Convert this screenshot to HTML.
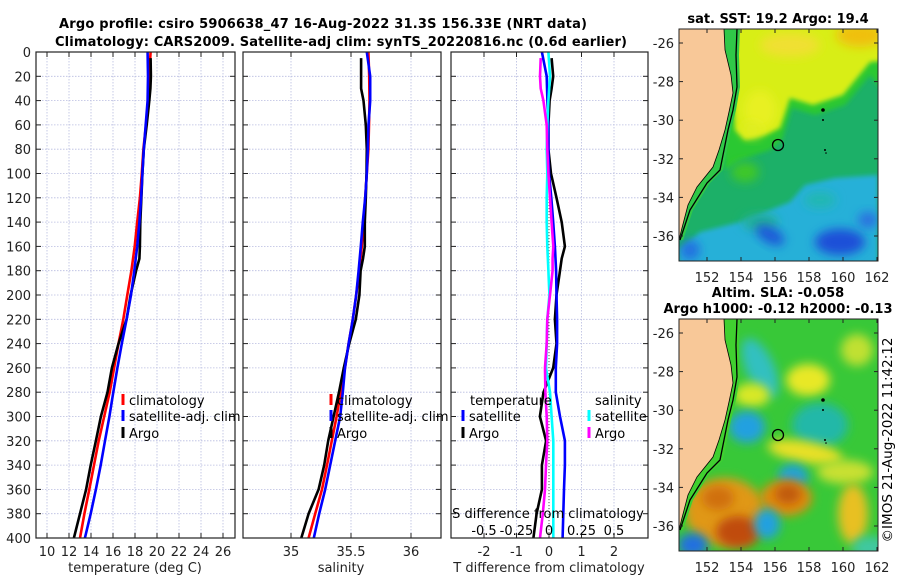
<!DOCTYPE html>
<html><head><meta charset="utf-8"><style>
html,body{margin:0;padding:0;background:#fff;}
svg{display:block;font-family:"DejaVu Sans","Liberation Sans",sans-serif;}
</style></head><body>
<svg id="fig" width="900" height="580" viewBox="0 0 900 580" xmlns="http://www.w3.org/2000/svg">
<defs>
<filter id="blur6" x="-50%" y="-50%" width="200%" height="200%"><feGaussianBlur stdDeviation="5"/></filter>
<filter id="blur3" x="-50%" y="-50%" width="200%" height="200%"><feGaussianBlur stdDeviation="2.5"/></filter>
<clipPath id="clipMap1"><rect x="679" y="29" width="199" height="232"/></clipPath>
<clipPath id="clipMap2"><rect x="679" y="319" width="199" height="232"/></clipPath>
<clipPath id="clipP1"><rect x="36" y="52" width="199" height="486"/></clipPath>
<clipPath id="clipP2"><rect x="243" y="52" width="198" height="486"/></clipPath>
<clipPath id="clipP3"><rect x="451" y="52" width="197" height="486"/></clipPath>
</defs>
<text x="323" y="28" font-size="13" font-weight="bold" text-anchor="middle" textLength="528">Argo profile: csiro 5906638_47 16-Aug-2022 31.3S 156.33E (NRT data)</text>
<text x="341" y="46" font-size="13" font-weight="bold" text-anchor="middle" textLength="572">Climatology: CARS2009. Satellite-adj clim: synTS_20220816.nc (0.6d earlier)</text>
<g id="panels"></g>
<g id="maps"></g>
<text transform="translate(892,440) rotate(-90)" font-size="13.5" text-anchor="middle">©IMOS 21-Aug-2022 11:42:12</text>
</svg>
<script>
// ---------- data ----------
const depths = [0,20,40,60,80,100,120,140,160,180,200,220,240,260,280,300,320,340,360,380,400];
const depthTicks = [0,20,40,60,80,100,120,140,160,180,200,220,240,260,280,300,320,340,360,380,400];
const tempClim = [19.42,19.28,19.2,19.0,18.76,18.62,18.45,18.2,17.97,17.67,17.3,16.94,16.5,16.1,15.7,15.2,14.7,14.27,13.85,13.4,13.0];
const tempSat  = [19.15,19.18,19.15,18.97,18.8,18.67,18.55,18.4,18.2,17.94,17.64,17.24,16.8,16.4,16.03,15.67,15.27,14.88,14.45,13.97,13.45];
const argoDepths = [5,20,30,40,60,80,100,120,140,160,170,180,200,220,240,260,280,300,320,340,360,380,400];
const tempArgo = [19.42,19.45,19.4,19.3,19.06,18.8,18.67,18.58,18.48,18.45,18.4,18.1,17.6,17.24,16.5,15.9,15.5,14.9,14.45,13.97,13.55,13.0,12.45];
const salClim = [35.645,35.652,35.654,35.65,35.645,35.632,35.618,35.604,35.59,35.568,35.543,35.515,35.48,35.45,35.415,35.38,35.34,35.3,35.258,35.202,35.147];
const salSat  = [35.632,35.66,35.66,35.646,35.64,35.632,35.618,35.598,35.582,35.563,35.543,35.515,35.48,35.45,35.432,35.41,35.368,35.327,35.285,35.235,35.19];
const salArgo = [35.584,35.584,35.584,35.604,35.623,35.632,35.629,35.623,35.615,35.615,35.6,35.58,35.57,35.54,35.485,35.44,35.4,35.355,35.31,35.277,35.23,35.147,35.086];
const tDiffSat  = [-0.22,-0.07,-0.05,-0.02,-0.02,0.0,0.07,0.13,0.18,0.22,0.23,0.25,0.25,0.21,0.21,0.34,0.49,0.49,0.46,0.44,0.42];
const tDiffArgo = [0.08,0.13,0.08,0.02,-0.02,-0.02,0.06,0.23,0.39,0.49,0.39,0.34,0.23,0.18,0.23,0.13,-0.17,-0.28,-0.09,-0.22,-0.22,-0.38,-0.48];
const sDiffSat  = [-0.005,0.008,-0.005,-0.013,-0.018,-0.013,-0.018,-0.018,-0.013,-0.005,0.003,-0.013,-0.018,-0.023,0.008,0.02,0.033,0.033,0.033,0.033,0.033];
const sDiffArgo = [-0.064,-0.069,-0.064,-0.043,-0.018,-0.013,-0.005,0.008,0.02,0.033,0.028,0.028,0.008,-0.013,-0.018,-0.031,-0.028,-0.018,-0.013,-0.023,-0.031,-0.048,-0.069];
const tempTicks = [10,12,14,16,18,20,22,24,26];
const salTicks = [35,35.5,36];
const salTickLabels = ["35","35.5","36"];
const tdTicks = [-2,-1,0,1,2];
const sdTicks = [-0.5,-0.25,0,0.25,0.5];
const sdTickLabels = ["-0.5","-0.25","0","0.25","0.5"];
const latTicks = [-26,-28,-30,-32,-34,-36];
const lonTicks = [152,154,156,158,160,162];

// ---------- helpers ----------
const NS = "http://www.w3.org/2000/svg";
const FS = 13;
const PB = 538; // panel bottom
function mk(tag, attrs, parent, txt){
  const e = document.createElementNS(NS, tag);
  for (const k in attrs) e.setAttribute(k, attrs[k]);
  if (txt !== undefined) e.textContent = txt;
  parent.appendChild(e);
  return e;
}
const yD = d => 52 + d * ((PB-52)/400);
const xT = t => 36 + (t - 9) * 11;
const xS = s => 243 + (s - 34.6) * 120;
const xTD = v => 549 + v * 32.5;
const xSD = v => 549 + v * 130;
const panels = document.getElementById('panels');

function panelFrame(x0, w, gx, name){
  const g = mk('g', {}, panels);
  
  
  mk('rect', {x:x0, y:52, width:w, height:PB-52, fill:'#fff'}, g);
  gx.forEach(x => mk('line', {x1:x, x2:x, y1:52, y2:PB, stroke:'#b8bce0', 'stroke-width':0.8, 'stroke-dasharray':'1.5,1.5'}, g));
  depthTicks.forEach(d => {
    const y = yD(d);
    mk('line', {x1:x0, x2:x0+w, y1:y, y2:y, stroke:'#b8bce0', 'stroke-width':0.8, 'stroke-dasharray':'1.5,1.5'}, g);
    mk('line', {x1:x0, x2:x0+5, y1:y, y2:y, stroke:'#222', 'stroke-width':1}, g);
    mk('line', {x1:x0+w-5, x2:x0+w, y1:y, y2:y, stroke:'#222', 'stroke-width':1}, g);
  });
  gx.forEach(x => {
    mk('line', {x1:x, x2:x, y1:52, y2:57, stroke:'#222', 'stroke-width':1}, g);
    mk('line', {x1:x, x2:x, y1:PB-5, y2:PB, stroke:'#222', 'stroke-width':1}, g);
  });
  return g;
}
function line(g, xs, ds, xf, col, name, clip){
  const pts = xs.map((v,i) => xf(v).toFixed(1) + ',' + yD(ds[i]).toFixed(1)).join(' ');
  const p = mk('polyline', {points:pts, fill:'none', stroke:col, 'stroke-width':2.6, 'stroke-linejoin':'round', 'clip-path':clip}, g);
  
  
}
function border(g, x0, w){ mk('rect', {x:x0, y:52, width:w, height:PB-52, fill:'none', stroke:'#222', 'stroke-width':1.2}, g); }
function legendItem(g, x, y, col, label, name){
  const it = mk('g', {}, g);
  
  
  mk('rect', {x:x-1.5, y:y-11, width:3, height:11, fill:col}, it);
  mk('text', {x:x+6, y:y, 'font-size':FS}, it, label);
}

// ---------- panel 1: temperature ----------
const g1 = panelFrame(36, 199, tempTicks.map(xT), 'temperature-panel');
depthTicks.forEach(d => {
  const t = mk('text', {x:31, y:yD(d)+5, 'font-size':FS, 'text-anchor':'end', fill:'#222'}, g1, String(d));
  
  
});
tempTicks.forEach(v => {
  const t = mk('text', {x:xT(v), y:556, 'font-size':FS, 'text-anchor':'middle', fill:'#222'}, g1, String(v));
  
  
});
const xl1 = mk('text', {x:135, y:572, 'font-size':FS, 'text-anchor':'middle', fill:'#222'}, g1, 'temperature (deg C)');


line(g1, tempClim, depths, xT, '#ff0000', 'temperature-climatology-line', 'url(#clipP1)');
line(g1, tempArgo, argoDepths, xT, '#000000', 'temperature-argo-line', 'url(#clipP1)');
line(g1, tempSat, depths, xT, '#0000ff', 'temperature-satellite-line', 'url(#clipP1)');
legendItem(g1, 123, 405, '#ff0000', 'climatology', 'legend-climatology');
legendItem(g1, 123, 421, '#0000ff', 'satellite-adj. clim', 'legend-satellite-adj');
legendItem(g1, 123, 438, '#000000', 'Argo', 'legend-argo');
border(g1, 36, 199);

// ---------- panel 2: salinity ----------
const g2 = panelFrame(243, 198, salTicks.map(xS), 'salinity-panel');
salTicks.forEach((v,i) => {
  const t = mk('text', {x:xS(v), y:556, 'font-size':FS, 'text-anchor':'middle', fill:'#222'}, g2, salTickLabels[i]);
  
  
});
const xl2 = mk('text', {x:341, y:572, 'font-size':FS, 'text-anchor':'middle', fill:'#222'}, g2, 'salinity');


line(g2, salClim, depths, xS, '#ff0000', 'salinity-climatology-line', 'url(#clipP2)');
line(g2, salArgo, argoDepths, xS, '#000000', 'salinity-argo-line', 'url(#clipP2)');
line(g2, salSat, depths, xS, '#0000ff', 'salinity-satellite-line', 'url(#clipP2)');
legendItem(g2, 331, 405, '#ff0000', 'climatology', 'legend-climatology-2');
legendItem(g2, 331, 421, '#0000ff', 'satellite-adj. clim', 'legend-satellite-adj-2');
legendItem(g2, 331, 438, '#000000', 'Argo', 'legend-argo-2');
border(g2, 243, 198);

// ---------- panel 3: differences ----------
const g3 = panelFrame(451, 197, tdTicks.map(xTD), 'difference-panel');
mk('line', {x1:549, x2:549, y1:52, y2:PB, stroke:'#555', 'stroke-width':1, 'stroke-dasharray':'1,2'}, g3);
tdTicks.forEach(v => {
  const t = mk('text', {x:xTD(v), y:556, 'font-size':FS, 'text-anchor':'middle', fill:'#222'}, g3, String(v));
  
  
});
const xl3 = mk('text', {x:549, y:572, 'font-size':FS, 'text-anchor':'middle', fill:'#222'}, g3, 'T difference from climatology');


line(g3, tDiffArgo, argoDepths, xTD, '#000000', 't-diff-argo-line', 'url(#clipP3)');
line(g3, tDiffSat, depths, xTD, '#0000ff', 't-diff-satellite-line', 'url(#clipP3)');
line(g3, sDiffSat, depths, xSD, '#00ffff', 's-diff-satellite-line', 'url(#clipP3)');
line(g3, sDiffArgo, argoDepths, xSD, '#ff00ff', 's-diff-argo-line', 'url(#clipP3)');
const lt = mk('text', {x:470, y:405, 'font-size':FS}, g3, 'temperature');


const ls = mk('text', {x:595, y:405, 'font-size':FS}, g3, 'salinity');


legendItem(g3, 463, 421, '#0000ff', 'satellite', 'legend-t-satellite');
legendItem(g3, 463, 438, '#000000', 'Argo', 'legend-t-argo');
legendItem(g3, 589, 421, '#00ffff', 'satellite', 'legend-s-satellite');
legendItem(g3, 589, 438, '#ff00ff', 'Argo', 'legend-s-argo');
const sdt = mk('text', {x:548, y:518, 'font-size':FS, 'text-anchor':'middle'}, g3, 'S difference from climatology');


sdTicks.forEach((v,i) => {
  const t = mk('text', {x:xSD(v), y:535, 'font-size':FS, 'text-anchor':'middle'}, g3, sdTickLabels[i]);
  
  
});
border(g3, 451, 197);

// ---------- maps ----------
const maps = document.getElementById('maps');
const lonX = lon => 707 + (lon - 152) * 17;
const coast = [[724,29],[725,50],[731,75],[733,93],[729,112],[725,130],[719,150],[713,167],[697,187],[688,205],[682,228],[679,240]];
const shelf = [[737,29],[736,55],[737,87],[733,110],[728,130],[720,170],[707,183],[690,210],[680,240]];
function drawMap(y0, name, title1, title2, fieldFn){
  const off = y0 - 29;
  const latY = lat => y0 + 14 + (-26 - lat) * 19.3;
  const g = mk('g', {}, maps);
  
  
  const cg = mk('g', {'clip-path': y0 < 100 ? 'url(#clipMap1)' : 'url(#clipMap2)'}, g);
  fieldFn(cg, off);
  const strip = coast.map(p => p[0]+','+(p[1]+off)).concat(shelf.slice().reverse().map(p => (p[0]+3)+','+(p[1]+off))).join(' ');
  mk('polygon', {points:strip, fill: y0 < 100 ? '#30c848' : '#40d030'}, cg);
  const landPts = [[679,29]].concat(coast).map(p => p[0] + ',' + (p[1]+off)).join(' ');
  mk('polygon', {points:landPts + ' 679,' + (261+off), fill:'#f8c898'}, cg);
  mk('polyline', {points: coast.map(p => p[0]+','+(p[1]+off)).join(' '), fill:'none', stroke:'#000', 'stroke-width':0.8}, cg);
  mk('polyline', {points: shelf.map(p => p[0]+','+(p[1]+off)).join(' '), fill:'none', stroke:'#000', 'stroke-width':1.3}, cg);
  const dot = mk('circle', {cx:778, cy:145+off, r:5.5, fill:'none', stroke:'#000', 'stroke-width':1.3}, cg);
  
  
  [[823,110,1.8],[823,120,1],[825,150,1],[826,153,0.8]].forEach(p => mk('circle', {cx:p[0], cy:p[1]+off, r:p[2], fill:'#000'}, cg));
  mk('rect', {x:679, y:y0, width:199, height:232, fill:'none', stroke:'#222', 'stroke-width':1}, g);
  latTicks.forEach(l => {
    const y = latY(l);
    mk('line', {x1:679, x2:683, y1:y, y2:y, stroke:'#222'}, g);
    mk('line', {x1:874, x2:878, y1:y, y2:y, stroke:'#222'}, g);
    const t = mk('text', {x:674, y:y+5, 'font-size':FS, 'text-anchor':'end', fill:'#222'}, g, String(l));
    
    
  });
  lonTicks.forEach(l => {
    const x = lonX(l);
    mk('line', {x1:x, x2:x, y1:y0+228, y2:y0+232, stroke:'#222'}, g);
    mk('line', {x1:x, x2:x, y1:y0, y2:y0+4, stroke:'#222'}, g);
    const t = mk('text', {x:x, y:y0+253, 'font-size':FS, 'text-anchor':'middle', fill:'#222'}, g, String(l));
    
    
  });
  if (title2){
    const a = mk('text', {x:778, y:y0-22, 'font-size':13, 'font-weight':'bold', 'text-anchor':'middle'}, g, title1);
    
    
    const b = mk('text', {x:778, y:y0-6, 'font-size':13, 'font-weight':'bold', 'text-anchor':'middle'}, g, title2);
    
    
  } else {
    const a = mk('text', {x:778, y:y0-6, 'font-size':13, 'font-weight':'bold', 'text-anchor':'middle'}, g, title1);
    
    
  }
}
function blob(g, cx, cy, rx, ry, col, rot, f){
  mk('ellipse', {cx, cy, rx, ry, fill:col, transform:'rotate(' + (rot||0) + ' ' + cx + ' ' + cy + ')', filter:f||'url(#blur6)'}, g);
}
drawMap(29, 'sst-map', 'sat. SST: 19.2  Argo: 19.4', null, (g, off) => {
  mk('rect', {x:679, y:29, width:199, height:232, fill:'#1cb068'}, g);
  mk('polygon', {points:'720,20 890,20 890,100 870,75 845,105 815,115 792,108 782,140 770,150 740,160 725,170', fill:'#2cc830', filter:'url(#blur3)'}, g);
  mk('polygon', {points:'730,20 890,20 890,60 870,62 843,95 813,105 790,98 780,128 765,135 745,140 735,130', fill:'#d8ee18', filter:'url(#blur3)'}, g);
  blob(g, 860, 35, 24, 12, '#f0c010');
  blob(g, 790, 45, 30, 12, '#f0e030');
  blob(g, 760, 110, 16, 20, '#e8f020');
  blob(g, 752, 130, 10, 8, '#e0ee20');
  blob(g, 745, 172, 14, 10, '#40c828');
  mk('polygon', {points:'805,185 835,178 878,175 878,270 679,270 679,250 700,232 740,222 770,210 790,202', fill:'#28b0d8', filter:'url(#blur3)'}, g);
  blob(g, 760, 222, 18, 8, '#20b090');
  blob(g, 820, 200, 16, 8, '#20b8b0');
  blob(g, 770, 235, 16, 8, '#1e58d8', 30);
  blob(g, 840, 242, 25, 13, '#1a50d8');
  blob(g, 868, 220, 10, 8, '#2a70e0');
  blob(g, 690, 250, 10, 10, '#2070e0');
});
drawMap(319, 'sla-map', 'Altim. SLA: -0.058', 'Argo h1000: -0.12 h2000: -0.13', (g, off) => {
  mk('rect', {x:679, y:319, width:199, height:232, fill:'#38c838'}, g);
  blob(g, 760, 368, 14, 32, '#30c0c0', -25);
  blob(g, 808, 380, 22, 16, '#e8e828');
  blob(g, 857, 350, 16, 16, '#c0e030');
  blob(g, 752, 395, 18, 12, '#d8e828');
  blob(g, 747, 427, 18, 16, '#20a0e0');
  blob(g, 820, 425, 28, 22, '#20b8a8');
  blob(g, 805, 452, 38, 11, '#e8e028', 10);
  blob(g, 793, 477, 15, 13, '#20a0d8');
  blob(g, 845, 472, 28, 12, '#c8e030');
  blob(g, 725, 512, 40, 34, '#e09818');
  blob(g, 738, 532, 22, 16, '#c04c10');
  blob(g, 718, 498, 16, 12, '#d07010');
  blob(g, 786, 498, 26, 18, '#e08a10');
  blob(g, 788, 494, 13, 10, '#c05a10');
  blob(g, 767, 524, 13, 15, '#20a0e0');
  blob(g, 693, 545, 15, 12, '#2070e0');
  blob(g, 853, 514, 15, 30, '#e8c020');
  blob(g, 870, 548, 18, 12, '#40c8a0');
});
</script>
</body></html>
